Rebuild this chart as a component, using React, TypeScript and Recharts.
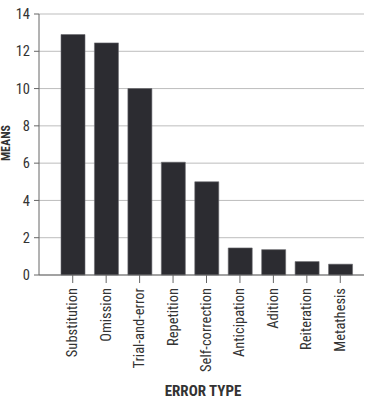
import { BarChart, Bar, XAxis, YAxis, CartesianGrid } from 'recharts';

const errorTypes = [
  'Substitution',
  'Omission',
  'Trial-and-error',
  'Repetition',
  'Self-correction',
  'Anticipation',
  'Adition',
  'Reiteration',
  'Metathesis',
];
const means = [12.9, 12.45, 10.0, 6.05, 5.0, 1.45, 1.36, 0.72, 0.58];
const yTicks = [0, 2, 4, 6, 8, 10, 12, 14];

const data = errorTypes.map((name, i) => ({ name, mean: means[i] }));

const font = '"Liberation Sans Narrow", "Roboto Condensed", Roboto, sans-serif';

function CategoryTick({ x, y, payload }: any) {
  return (
    <text
      x={x}
      y={y + 3}
      transform={`rotate(-90, ${x}, ${y + 3})`}
      textAnchor="end"
      dominantBaseline="central"
      fontSize={14.5}
      fontFamily={font}
      fill="#333"
    >
      {payload.value}
    </text>
  );
}

export default function App() {
  return (
    <div style={{ position: 'absolute', left: 0, top: 0, background: '#fff' }}>
      <BarChart
        width={365}
        height={400}
        data={data}
        margin={{ top: 14, right: 1, bottom: 25, left: 9 }}
        barSize={24}
      >
        <CartesianGrid vertical={false} stroke="#bdbdbd" />
        <XAxis
          dataKey="name"
          interval={0}
          height={100}
          padding={{ left: 17, right: 7 }}
          tick={<CategoryTick />}
          tickSize={8}
          axisLine={{ stroke: '#666' }}
          tickLine={{ stroke: '#666' }}
        />
        <YAxis
          domain={[0, 14]}
          ticks={yTicks}
          width={30}
          tickSize={5}
          tickMargin={4}
          axisLine={{ stroke: '#666' }}
          tickLine={{ stroke: '#666' }}
          tick={{ fontSize: 14.5, fontFamily: font, fill: '#333' }}
        />
        <YAxis
          yAxisId="right"
          orientation="right"
          domain={[0, 14]}
          width={0}
          tick={false}
          tickLine={false}
          axisLine={{ stroke: '#bdbdbd' }}
        />
        <Bar dataKey="mean" fill="#2c2c31" stroke="#6a6a6e" strokeWidth={0.6} isAnimationActive={false} />
      </BarChart>
      <svg
        width={365}
        height={400}
        style={{ position: 'absolute', left: 0, top: 0, pointerEvents: 'none' }}
      >
        <text
          x={203}
          y={396}
          textAnchor="middle"
          fontSize={15}
          fontWeight="bold"
          fontFamily={font}
          fill="#333"
        >
          ERROR TYPE
        </text>
        <text
          x={6}
          y={143}
          transform="rotate(-90, 6, 143)"
          textAnchor="middle"
          dominantBaseline="central"
          fontSize={12}
          fontWeight="bold"
          fontFamily={font}
          fill="#333"
        >
          MEANS
        </text>
      </svg>
    </div>
  );
}
